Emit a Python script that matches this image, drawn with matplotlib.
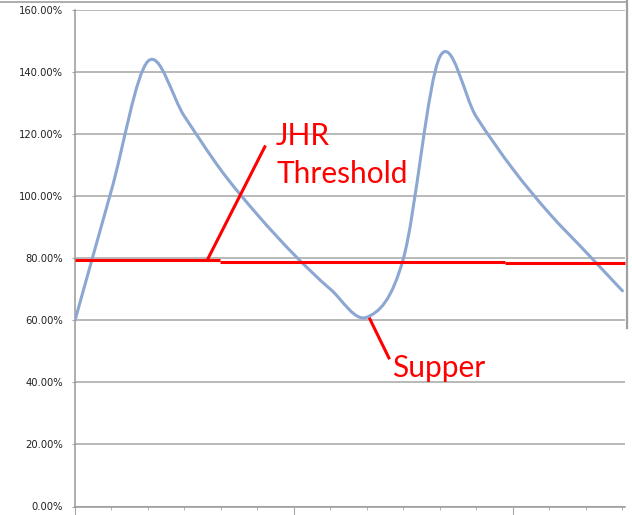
import matplotlib
matplotlib.use("Agg")
import matplotlib.pyplot as plt
from matplotlib.path import Path
from matplotlib.patches import PathPatch
from matplotlib.lines import Line2D
from matplotlib.ticker import FixedLocator, FuncFormatter

# data (x = hour ticks, y = percent)
hours = list(range(16))
level = [60, 102, 143.5, 125.7, 108.4, 94, 81.2, 70, 61, 80, 145, 125.5, 108.7, 94.4, 82, 69.5]

# hand drawn threshold pieces: (x_start, x_end, level)
thresh_x0 = [0, 3.97, 11.78]
thresh_x1 = [3.97, 11.78, 15.07]
thresh_y = [79.4, 78.8, 78.4]

y_ticks = [0, 20, 40, 60, 80, 100, 120, 140, 160]

W, H = 632, 515
fig = plt.figure(figsize=(W / 100, H / 100), dpi=100)
ax = fig.add_axes([75 / W, (H - 506.5) / H, (625 - 75) / W, (506.5 - 10) / H])
ax.set_xlim(0, 15.07)
ax.set_ylim(0, 160)

grid_c = "#a6a6a6"
ax.set_yticks(y_ticks)
ax.yaxis.set_major_formatter(FuncFormatter(lambda v, p: "%.2f%%" % v))
ax.grid(axis="y", color=grid_c, lw=1.1)
ax.set_axisbelow(True)
ax.tick_params(axis="y", length=2.2, color=grid_c, pad=6.5, labelsize=7.2, labelcolor="#222222")

ax.xaxis.set_major_locator(FixedLocator([0, 6, 12]))
ax.xaxis.set_minor_locator(FixedLocator(hours))
ax.tick_params(axis="x", which="major", length=5.5, color=grid_c, labelbottom=False)
ax.tick_params(axis="x", which="minor", length=2.5, color=grid_c)

for s in ["top", "right"]:
    ax.spines[s].set_visible(False)
for s in ["left", "bottom"]:
    ax.spines[s].set_color("#999999")
    ax.spines[s].set_linewidth(1.1)

# smoothed line like excel (bezier through the points)
n = len(hours)
verts = [(hours[0], level[0])]
codes = [Path.MOVETO]
for i in range(n - 1):
    p0 = i - 1 if i > 0 else 0
    p3 = i + 2 if i + 2 < n else n - 1
    c1 = (hours[i] + (hours[i + 1] - hours[p0]) / 6, level[i] + (level[i + 1] - level[p0]) / 6)
    c2 = (hours[i + 1] - (hours[p3] - hours[i]) / 6, level[i + 1] - (level[p3] - level[i]) / 6)
    verts += [c1, c2, (hours[i + 1], level[i + 1])]
    codes += [Path.CURVE4] * 3
ax.add_patch(PathPatch(Path(verts, codes), fill=False, edgecolor="#8ca7d1", lw=2.2,
                       capstyle="round", joinstyle="round", zorder=3))

red = "#ff0000"
for a, b, y in zip(thresh_x0, thresh_x1, thresh_y):
    ax.plot([a, b], [y, y], color=red, lw=2.2, zorder=4, clip_on=False, solid_capstyle="butt")

# annotation pointers
ax.plot([3.64, 5.2], [79.8, 115.9], color=red, lw=2.2, zorder=4)
ax.plot([8.08, 8.6], [60.4, 47.9], color=red, lw=2.2, zorder=4)

fnt = dict(color=red, fontsize=21.5, family=["Lato", "DejaVu Sans"], zorder=5)
ax.text(5.51, 116.5, "JHR", ha="left", va="baseline", **fnt)
ax.text(5.51, 104.3, "Threshold", ha="left", va="baseline", **fnt)
ax.text(8.68, 41.7, "Supper", ha="left", va="baseline", **fnt)

# screenshot frame lines
fig.add_artist(Line2D([0, 627 / W], [1 - 2 / H, 1 - 2 / H], color="#a0a0a0", lw=1.2))
fig.add_artist(Line2D([627 / W, 627 / W], [1, 1 - 328 / H], color="#a0a0a0", lw=1.6))

fig.savefig("out.png", dpi=100)
